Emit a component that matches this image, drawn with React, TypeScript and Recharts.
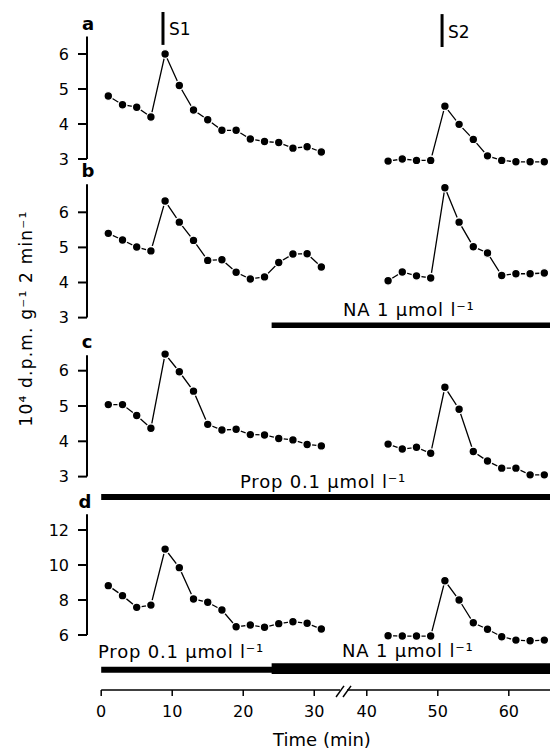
import React from 'react';
import { LineChart, Line, XAxis, YAxis, ReferenceLine } from 'recharts';

const FONT = '"DejaVu Sans", Verdana, sans-serif';
const W = 550;
const H = 750;

// sampling times (min), 2-min fractions
const timesBefore = [1, 3, 5, 7, 9, 11, 13, 15, 17, 19, 21, 23, 25, 27, 29, 31];
const timesAfter = [43, 45, 47, 49, 51, 53, 55, 57, 59, 61, 63, 65];
const timeTicks = [0, 10, 20, 30, 40, 50, 60];

// 10^4 d.p.m. g-1 2 min-1
const aBefore = [4.8, 4.55, 4.48, 4.2, 6.0, 5.1, 4.4, 4.12, 3.82, 3.82, 3.57, 3.5, 3.47, 3.31, 3.35, 3.2];
const aAfter = [2.94, 3.0, 2.96, 2.96, 4.51, 3.99, 3.56, 3.09, 2.96, 2.92, 2.92, 2.92];
const bBefore = [5.4, 5.21, 5.01, 4.9, 6.32, 5.72, 5.2, 4.63, 4.65, 4.29, 4.1, 4.16, 4.57, 4.81, 4.82, 4.44];
const bAfter = [4.05, 4.3, 4.19, 4.13, 6.7, 5.72, 5.02, 4.84, 4.2, 4.25, 4.25, 4.27];
const cBefore = [5.04, 5.04, 4.73, 4.37, 6.47, 5.97, 5.42, 4.48, 4.32, 4.34, 4.19, 4.18, 4.08, 4.04, 3.91, 3.87];
const cAfter = [3.92, 3.78, 3.83, 3.66, 5.53, 4.91, 3.71, 3.44, 3.24, 3.24, 3.05, 3.05];
const dBefore = [8.82, 8.25, 7.58, 7.71, 10.91, 9.85, 8.06, 7.87, 7.43, 6.47, 6.57, 6.44, 6.65, 6.76, 6.67, 6.34];
const dAfter = [5.96, 5.94, 5.94, 5.94, 9.1, 8.0, 6.7, 6.33, 5.9, 5.71, 5.67, 5.71];

const ticksSmall = [3, 4, 5, 6];
const ticksLarge = [6, 8, 10, 12];

// stimulation periods
const stimTimes = [8.7, 50.6];
const stimLabels = ['S1', 'S2'];

// drug application starts (min)
const naStart = 24;
const propStart = 0;

// broken time axis
const BREAK = 35;
const CUT = 2.6;
const X_MIN = -2;
const X_MAX = 63.2;
const toPos = (t: number) => (t < BREAK ? t : t - CUT);
const tickPos = timeTicks.map(toPos);

const AXIS_X = 87;
const Y_AXIS_W = 40;

function rows(before: number[], after: number[]) {
  return [
    ...before.map((v, i) => ({ x: toPos(timesBefore[i]), v })),
    { x: toPos(34), v: null },
    ...after.map((v, i) => ({ x: toPos(timesAfter[i]), v })),
  ];
}

type Bar = { from: number; level: number; width: number };

type PanelProps = {
  data: any[];
  ticks: number[];
  domain: [number, number];
  refValue: number;
  refY: number;
  k: number;
  axisFrom: number;
  axisTo: number;
  bars?: Bar[];
  stims?: boolean;
  showTime?: boolean;
};

function Panel(p: PanelProps) {
  const [lo, hi] = p.domain;
  const top = p.refY - (hi - p.refValue) * p.k;
  const bottom = p.refY + (p.refValue - lo) * p.k;
  const xh = p.showTime ? 30 : 0;
  return (
    <div style={{ position: 'absolute', left: 0, top: 0 }}>
      <LineChart
        width={W}
        height={H}
        data={p.data}
        margin={{ top, bottom: H - bottom - xh, left: AXIS_X - Y_AXIS_W, right: 0 }}
      >
        <XAxis
          type="number"
          dataKey="x"
          domain={[X_MIN, X_MAX]}
          hide={!p.showTime}
          height={30}
          ticks={tickPos}
          interval={0}
          tickFormatter={(v: number) => String(timeTicks[tickPos.indexOf(v)])}
          axisLine={false}
          tickLine={{ stroke: '#000', strokeWidth: 1.5 }}
          tickSize={6}
          tickMargin={10}
          tick={{ fill: '#000', fontSize: 16, fontFamily: FONT }}
        />
        <YAxis
          type="number"
          domain={p.domain}
          ticks={p.ticks}
          interval={0}
          width={Y_AXIS_W}
          axisLine={false}
          tickLine={{ stroke: '#000', strokeWidth: 2 }}
          tickSize={9}
          tickMargin={9}
          tick={{ fill: '#000', fontSize: 16, fontFamily: FONT }}
        />
        <ReferenceLine
          segment={[{ x: X_MIN, y: p.axisFrom }, { x: X_MIN, y: p.axisTo }]}
          stroke="#000"
          strokeWidth={2}
          ifOverflow="visible"
        />
        {(p.bars || []).map((b, i) => (
          <ReferenceLine
            key={i}
            segment={[{ x: toPos(b.from), y: b.level }, { x: X_MAX, y: b.level }]}
            stroke="#000"
            strokeWidth={b.width}
            ifOverflow="visible"
          />
        ))}
        {p.stims &&
          stimTimes.map((t, i) => (
            <ReferenceLine
              key={'s' + i}
              segment={[{ x: toPos(t), y: i === 0 ? 6.26 : 6.2 }, { x: toPos(t), y: i === 0 ? 7.2 : 7.14 }]}
              stroke="#000"
              strokeWidth={3}
              ifOverflow="visible"
            />
          ))}
        {p.showTime && (
          <>
            <ReferenceLine segment={[{ x: 0, y: lo }, { x: 33.63, y: lo }]} stroke="#000" strokeWidth={1.5} ifOverflow="visible" />
            <ReferenceLine segment={[{ x: 34.61, y: lo }, { x: X_MAX, y: lo }]} stroke="#000" strokeWidth={1.5} ifOverflow="visible" />
            <ReferenceLine segment={[{ x: 33.07, y: 2.46 }, { x: 34.19, y: 3.09 }]} stroke="#000" strokeWidth={1.5} ifOverflow="visible" />
            <ReferenceLine segment={[{ x: 34.05, y: 2.46 }, { x: 35.18, y: 3.09 }]} stroke="#000" strokeWidth={1.5} ifOverflow="visible" />
          </>
        )}
        <Line
          dataKey="v"
          stroke="#000"
          strokeWidth={1.3}
          connectNulls={false}
          dot={{ r: 4.4, fill: '#000', stroke: '#fff', strokeWidth: 1.4 }}
          activeDot={false}
          isAnimationActive={false}
        />
      </LineChart>
    </div>
  );
}

export default function App() {
  const t = { fontFamily: FONT, fill: '#000' } as const;
  return (
    <div style={{ position: 'absolute', left: 0, top: 0, width: W, height: H, background: '#fff' }}>
      <Panel data={rows(aBefore, aAfter)} ticks={ticksSmall} domain={[2.6, 7.3]} refValue={6} refY={54} k={35} axisFrom={3} axisTo={6.5} stims />
      <Panel
        data={rows(bBefore, bAfter)}
        ticks={ticksSmall}
        domain={[2.6, 6.9]}
        refValue={6}
        refY={212.3}
        k={35.1}
        axisFrom={3}
        axisTo={6.8}
        bars={[{ from: naStart, level: 2.78, width: 5.6 }]}
      />
      <Panel
        data={rows(cBefore, cAfter)}
        ticks={ticksSmall}
        domain={[2.2, 6.5]}
        refValue={6}
        refY={370.7}
        k={35.3}
        axisFrom={3}
        axisTo={6.44}
        bars={[{ from: propStart, level: 2.42, width: 6 }]}
      />
      <Panel
        data={rows(dBefore, dAfter)}
        ticks={ticksLarge}
        domain={[2.86, 13]}
        refValue={12}
        refY={530}
        k={17.5}
        axisFrom={6}
        axisTo={12.9}
        bars={[
          { from: propStart, level: 4.02, width: 6 },
          { from: naStart, level: 4.08, width: 10.7 },
        ]}
        showTime
      />
      <svg width={W} height={H} style={{ position: 'absolute', left: 0, top: 0, pointerEvents: 'none' }}>
        <text {...t} x={88} y={30} fontSize={18} fontWeight="bold" textAnchor="middle">a</text>
        <text {...t} x={88} y={177} fontSize={18} fontWeight="bold" textAnchor="middle">b</text>
        <text {...t} x={87} y={348} fontSize={18} fontWeight="bold" textAnchor="middle">c</text>
        <text {...t} x={85} y={508} fontSize={18} fontWeight="bold" textAnchor="middle">d</text>
        <text {...t} x={169} y={35} fontSize={17}>{stimLabels[0]}</text>
        <text {...t} x={448} y={38} fontSize={17}>{stimLabels[1]}</text>
        <text {...t} x={343} y={316} fontSize={18} letterSpacing={0.8}>NA 1 μmol l⁻¹</text>
        <text {...t} x={240} y={488} fontSize={18} letterSpacing={0.8}>Prop 0.1 μmol l⁻¹</text>
        <text {...t} x={98} y={658} fontSize={18} letterSpacing={0.8}>Prop 0.1 μmol l⁻¹</text>
        <text {...t} x={342} y={657} fontSize={18} letterSpacing={0.8}>NA 1 μmol l⁻¹</text>
        <text {...t} x={322} y={746} fontSize={18} textAnchor="middle">Time (min)</text>
        <text {...t} fontSize={17} letterSpacing={1.2} textAnchor="middle" transform="translate(31.5,318.5) rotate(-90)">
          10⁴ d.p.m. g⁻¹ 2 min⁻¹
        </text>
      </svg>
    </div>
  );
}
